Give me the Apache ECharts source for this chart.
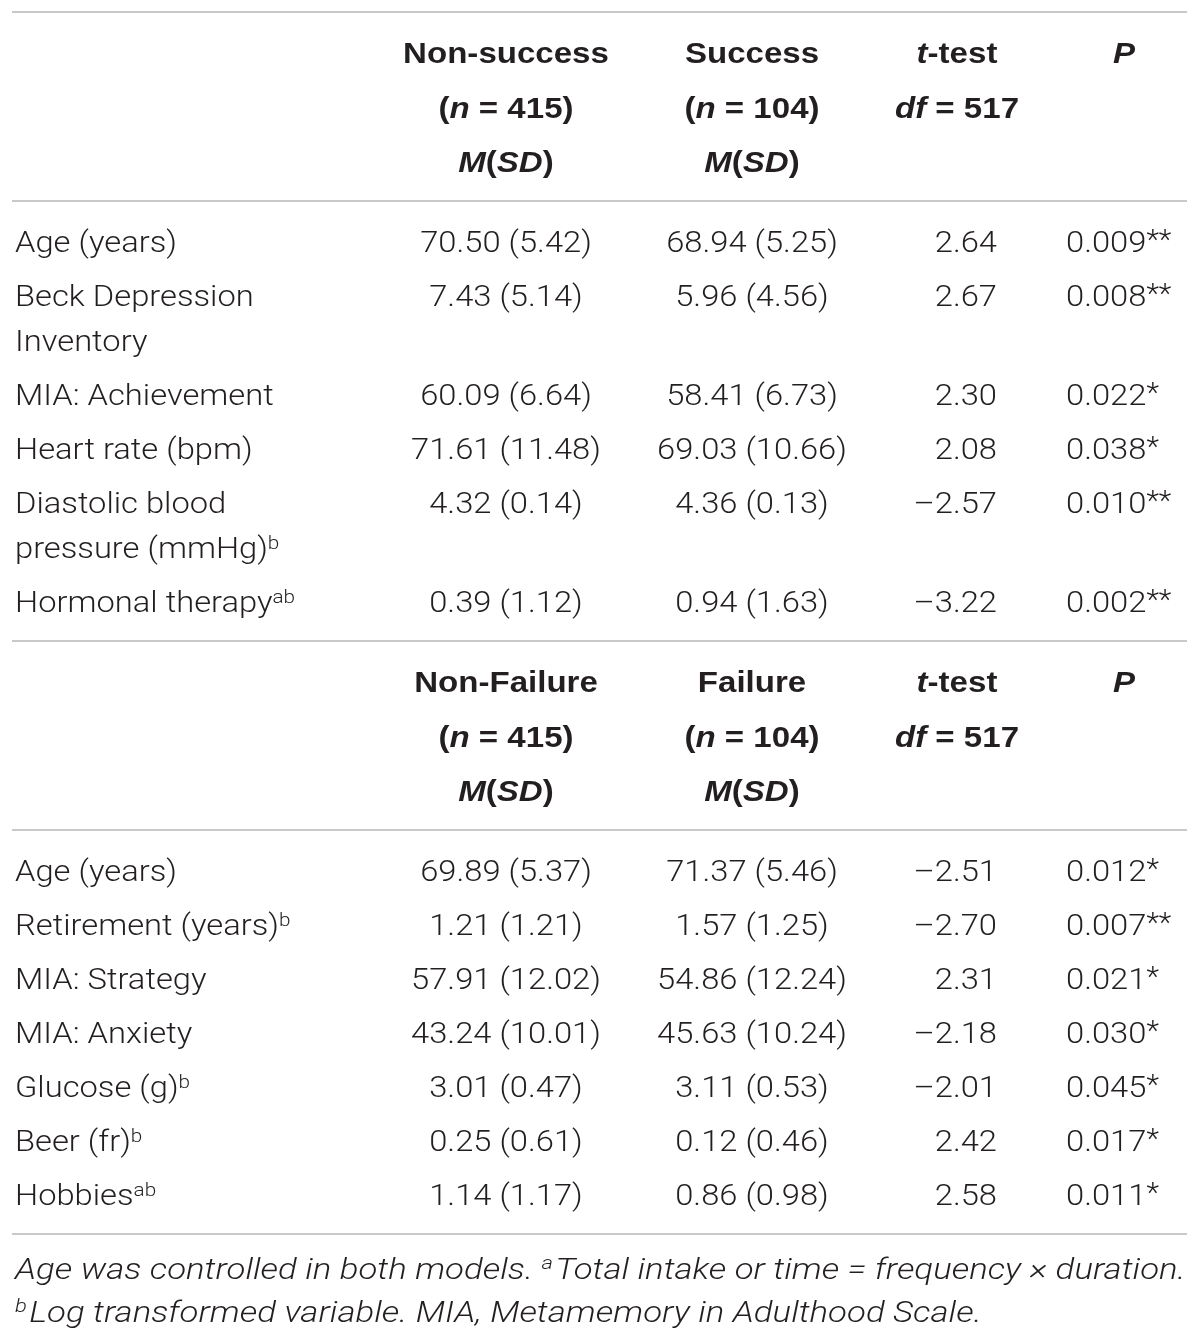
<!DOCTYPE html>
<html>
<head>
<meta charset="utf-8">
<title>Table</title>
<script src="https://cdn.jsdelivr.net/npm/echarts@6/dist/echarts.min.js"></script>
<style>
  html, body { margin: 0; padding: 0; background: #fff; }
  #chart { width: 1200px; height: 1342px; }
</style>
</head>
<body>
<div id="chart"></div>
<script>
// ---- data ----
const nGroups = [415, 104];
const dfValue = 517;

const groups1 = ["Non-success", "Success"];
const labels1 = ["Age (years)", "Beck Depression\nInventory", "MIA: Achievement", "Heart rate (bpm)", "Diastolic blood\npressure (mmHg)", "Hormonal therapy"];
const sups1 = ["", "", "", "", "b", "ab"];
const meanA1 = [70.50, 7.43, 60.09, 71.61, 4.32, 0.39];
const sdA1 = [5.42, 5.14, 6.64, 11.48, 0.14, 1.12];
const meanB1 = [68.94, 5.96, 58.41, 69.03, 4.36, 0.94];
const sdB1 = [5.25, 4.56, 6.73, 10.66, 0.13, 1.63];
const tVals1 = [2.64, 2.67, 2.30, 2.08, -2.57, -3.22];
const pVals1 = [0.009, 0.008, 0.022, 0.038, 0.010, 0.002];
const stars1 = ["**", "**", "*", "*", "**", "**"];

const groups2 = ["Non-Failure", "Failure"];
const labels2 = ["Age (years)", "Retirement (years)", "MIA: Strategy", "MIA: Anxiety", "Glucose (g)", "Beer (fr)", "Hobbies"];
const sups2 = ["", "b", "", "", "b", "b", "ab"];
const meanA2 = [69.89, 1.21, 57.91, 43.24, 3.01, 0.25, 1.14];
const sdA2 = [5.37, 1.21, 12.02, 10.01, 0.47, 0.61, 1.17];
const meanB2 = [71.37, 1.57, 54.86, 45.63, 3.11, 0.12, 0.86];
const sdB2 = [5.46, 1.25, 12.24, 10.24, 0.53, 0.46, 0.98];
const tVals2 = [-2.51, -2.70, 2.31, -2.18, -2.01, 2.42, 2.58];
const pVals2 = [0.012, 0.007, 0.021, 0.030, 0.045, 0.017, 0.011];
const stars2 = ["*", "**", "*", "*", "*", "*", "*"];

const notes = [
  "Age was controlled in both models. {nsup|a}Total intake or time = frequency \u00d7 duration.",
  "{nsup|b}Log transformed variable. MIA, Metamemory in Adulthood Scale."
];

// ---- layout / style ----
const LIGHT = "Roboto, 'Liberation Sans', Arial, sans-serif";
const BOLD = "'Liberation Sans', Arial, sans-serif";
const INK = "#231f20";
const RULE = "#c9c9c9";
const colX = [15, 506, 752, 997, 1066];
const colAlign = ["left", "center", "center", "right", "left"];
const tHeadX = 957;
const pHeadX = 1124;

const KIND = {
  body: { style: { fontFamily: LIGHT, fontSize: 30, fontWeight: 300 }, scaleX: 1.09, dy: 3 },
  head: { style: { fontFamily: BOLD, fontSize: 29, fontWeight: "bold" }, scaleX: 1.14, dy: 3 },
  note: { style: { fontFamily: LIGHT, fontSize: 30, fontWeight: 300, fontStyle: "italic" }, scaleX: 1.16, dy: 3 }
};
const RICH = {
  bi: { fontFamily: BOLD, fontSize: 29, fontWeight: "bold", fontStyle: "italic", fill: INK },
  sup: { fontFamily: LIGHT, fontSize: 19, fontWeight: 300, verticalAlign: "bottom", padding: [0, 0, 11, 0], fill: INK },
  star: { fontFamily: LIGHT, fontSize: 27, fontWeight: 300, verticalAlign: "top", fill: INK },
  nsup: { fontFamily: LIGHT, fontSize: 19, fontWeight: 300, fontStyle: "italic", verticalAlign: "bottom", padding: [0, 2, 13, 0], fill: INK }
};

const cells = [];
const rules = [];
function addCell(x, y, text, align, kind) {
  cells.push({ value: [x, y], text: text, align: align, kind: kind });
}
const fmtMS = (m, s) => m.toFixed(2) + " (" + s.toFixed(2) + ")";
const fmtT = (t) => (t < 0 ? "\u2013" : "") + Math.abs(t).toFixed(2);

let y = 12;
rules.push(y);
function section(groups, labels, sups, mA, sA, mB, sB, tv, pv, st) {
  y += 40;
  addCell(colX[1], y, groups[0], "center", "head");
  addCell(colX[2], y, groups[1], "center", "head");
  addCell(tHeadX, y, "{bi|t}-test", "center", "head");
  addCell(pHeadX, y, "{bi|P}", "center", "head");
  y += 54.5;
  addCell(colX[1], y, "({bi|n} = " + nGroups[0] + ")", "center", "head");
  addCell(colX[2], y, "({bi|n} = " + nGroups[1] + ")", "center", "head");
  addCell(tHeadX, y, "{bi|df} = " + dfValue, "center", "head");
  y += 54.5;
  addCell(colX[1], y, "{bi|M}({bi|SD})", "center", "head");
  addCell(colX[2], y, "{bi|M}({bi|SD})", "center", "head");
  y += 40;
  rules.push(y);
  y += 40;
  for (let i = 0; i < labels.length; i++) {
    const lines = labels[i].split("\n");
    addCell(colX[1], y, fmtMS(mA[i], sA[i]), colAlign[1], "body");
    addCell(colX[2], y, fmtMS(mB[i], sB[i]), colAlign[2], "body");
    addCell(colX[3], y, fmtT(tv[i]), colAlign[3], "body");
    addCell(colX[4], y, pv[i].toFixed(3) + "{star|" + st[i] + "}", colAlign[4], "body");
    lines.forEach((ln, k) => {
      if (k > 0) y += 45;
      const sup = (k === lines.length - 1 && sups[i]) ? "{sup|" + sups[i] + "}" : "";
      addCell(colX[0], y, ln + sup, colAlign[0], "body");
    });
    if (i < labels.length - 1) y += 54;
  }
  y += 40;
  rules.push(y);
}
section(groups1, labels1, sups1, meanA1, sdA1, meanB1, sdB1, tVals1, pVals1, stars1);
section(groups2, labels2, sups2, meanA2, sdA2, meanB2, sdB2, tVals2, pVals2, stars2);

y += 34;
notes.forEach((n, k) => {
  if (k > 0) y += 43;
  addCell(colX[0], y, n, "left", "note");
});

const chart = echarts.init(document.getElementById("chart"));
chart.setOption({
  animation: false,
  grid: { left: 0, right: 0, top: 0, bottom: 0 },
  xAxis: { type: "value", min: 0, max: 1200, show: false },
  yAxis: { type: "value", min: 0, max: 1342, inverse: true, show: false },
  series: [
    {
      type: "custom",
      silent: true,
      data: rules.map((r) => [r]),
      renderItem: function (params, api) {
        const a = api.coord([12, api.value(0)]);
        const b = api.coord([1187, api.value(0)]);
        return {
          type: "line",
          shape: { x1: a[0], y1: a[1], x2: b[0], y2: b[1] },
          style: { stroke: RULE, lineWidth: 2 }
        };
      }
    },
    {
      type: "custom",
      silent: true,
      data: cells.map((c) => c.value),
      renderItem: function (params, api) {
        const c = cells[params.dataIndex];
        const k = KIND[c.kind];
        const p = api.coord([api.value(0), api.value(1)]);
        return {
          type: "text",
          x: p[0],
          y: p[1] + k.dy,
          scaleX: k.scaleX,
          style: Object.assign({
            text: c.text,
            fill: INK,
            align: c.align,
            verticalAlign: "middle",
            rich: RICH
          }, k.style)
        };
      }
    }
  ]
});
</script>
</body>
</html>
